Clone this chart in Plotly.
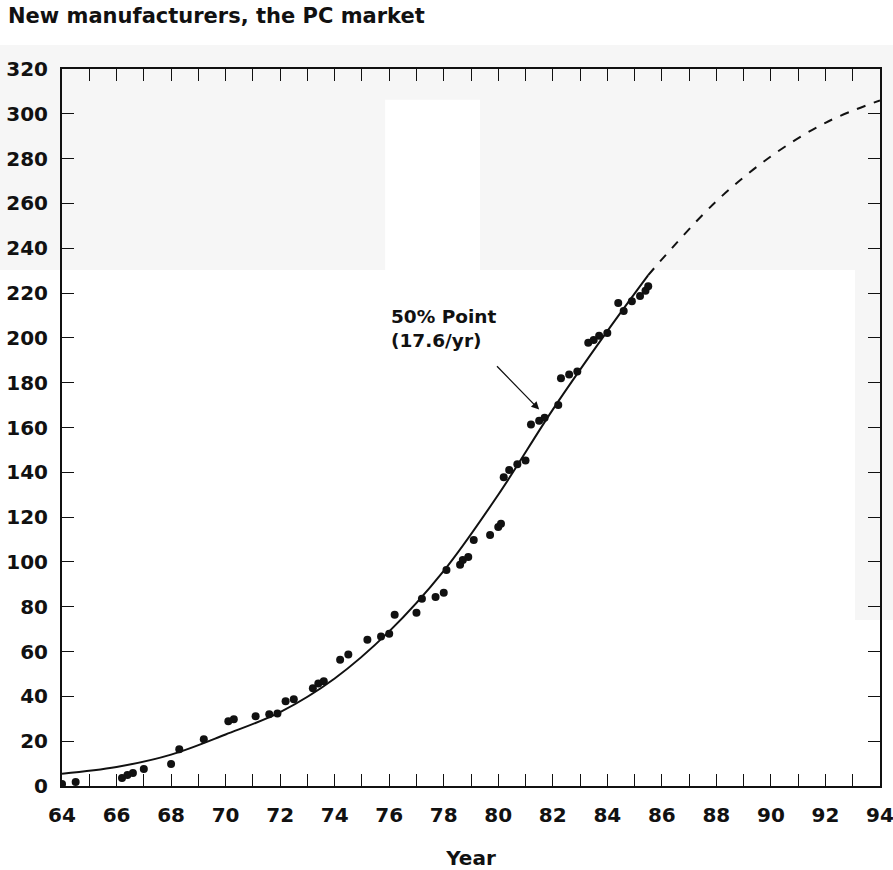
import plotly.graph_objects as go

# Observed data (year, new manufacturers cumulative)
obs_year = [64.0, 64.5, 66.2, 66.4, 66.6, 67.0, 68.0, 68.3, 69.2,
            70.1, 70.3, 71.1, 71.6, 71.9, 72.2, 72.5, 73.2, 73.4, 73.6, 74.2, 74.5,
            75.2, 75.7, 76.0, 76.2, 77.0, 77.2, 77.7, 78.0, 78.1, 78.6, 78.7, 78.9, 79.1,
            79.7, 80.0, 80.1, 80.2, 80.4, 80.7, 81.0, 81.2, 81.5, 81.7,
            82.2, 82.3, 82.6, 82.9, 83.3, 83.5, 83.7, 84.0, 84.4, 84.6, 84.9, 85.2, 85.4, 85.5]
obs_value = [0.9, 1.8, 3.6, 4.9, 5.8, 7.6, 9.8, 16.4, 20.9,
             28.9, 29.8, 31.1, 32.0, 32.4, 37.8, 38.7, 43.6, 45.8, 46.7, 56.4, 58.7,
             65.3, 66.7, 68.0, 76.4, 77.3, 83.6, 84.4, 86.2, 96.4, 98.7, 100.9, 102.2, 109.8,
             112.0, 115.6, 117.0, 137.8, 141.0, 143.6, 145.3, 161.3, 163.0, 164.4,
             170.0, 182.0, 183.6, 185.0, 197.8, 199.0, 200.9, 202.2, 215.6, 212.0, 216.4, 218.7, 221.0, 223.0]

# Fitted curve
fit_year = [64, 66, 68, 70, 72, 74, 76, 78, 80, 82, 84, 85.5]
fit_value = [5.5, 8.5, 14, 23, 33, 48, 69, 96, 130, 168, 203, 228]
proj_year = [85.5, 86, 88, 90, 92, 94]
proj_value = [228, 235, 261, 281, 296, 306]

x_ticks = list(range(64, 95, 2))
y_ticks = list(range(0, 321, 20))

title_text = "New manufacturers, the PC market"
annot_text = "50% Point<br>(17.6/yr)"

FONT = "DejaVu Sans"
INK = "#111111"

fig = go.Figure()
fig.add_trace(go.Scatter(x=fit_year, y=fit_value, mode="lines", line=dict(color=INK, width=2, shape="spline"),
                         showlegend=False, hoverinfo="skip"))
fig.add_trace(go.Scatter(x=proj_year, y=proj_value, mode="lines",
                         line=dict(color=INK, width=2, dash="dash", shape="spline"),
                         showlegend=False, hoverinfo="skip"))
fig.add_trace(go.Scatter(x=obs_year, y=obs_value, mode="markers", marker=dict(color=INK, size=8),
                         showlegend=False))

# text annotation
fig.add_annotation(x=76.0, y=215, xref="x", yref="y", text=annot_text, showarrow=False,
                   xanchor="left", yanchor="top", align="left",
                   font=dict(family=FONT, size=18.5, color=INK, weight="bold"))
# arrow
fig.add_annotation(x=81.5, y=168, ax=79.9, ay=188, xref="x", yref="y", axref="x", ayref="y",
                   text="", showarrow=True, arrowhead=2, arrowsize=1.2, arrowwidth=1.3, arrowcolor=INK)

# scan background tint
GRAY = "#f6f6f6"
shapes = [
    dict(type="rect", xref="paper", yref="paper", x0=-0.08, x1=1.02, y0=0.7197, y1=1.0335,
         fillcolor=GRAY, line=dict(width=0), layer="below"),
    dict(type="rect", xref="paper", yref="paper", x0=0.395, x1=0.511, y0=0.7197, y1=0.957,
         fillcolor="#ffffff", line=dict(width=0), layer="below"),
    dict(type="rect", xref="paper", yref="paper", x0=0.9694, x1=1.02, y0=0.2315, y1=0.7197,
         fillcolor=GRAY, line=dict(width=0), layer="below"),
]

tickfont = dict(family=FONT, size=20, color=INK, weight="bold")

fig.update_layout(
    width=893, height=870,
    margin=dict(l=62, r=13, t=69, b=84),
    paper_bgcolor="white", plot_bgcolor="rgba(0,0,0,0)",
    shapes=shapes,
    font=dict(family=FONT, size=15, color=INK),
    title=dict(text=title_text, x=0.009, xanchor="left", y=0.99, yanchor="top",
               font=dict(family=FONT, size=21, color=INK, weight="bold")),
    xaxis=dict(range=[63.999, 94.001], tickvals=x_ticks, ticktext=[str(v) for v in x_ticks],
               ticks="inside", ticklen=12, tickwidth=1.3, tickcolor=INK, automargin=False,
               ticklabeloverflow="allow",
               minor=dict(dtick=1, tick0=64, ticks="inside", ticklen=12, tickwidth=1.3, tickcolor=INK),
               showline=True, linecolor=INK, linewidth=2, mirror="ticks", showgrid=False, zeroline=False,
               ticklabelstandoff=10,
               title=dict(text="Year", standoff=25, font=dict(family=FONT, size=20, color=INK, weight="bold")),
               tickfont=tickfont),
    yaxis=dict(range=[0, 320], tickvals=y_ticks, ticktext=[str(v) for v in y_ticks],
               ticks="inside", ticklen=12, tickwidth=1.3, tickcolor=INK, automargin=False,
               showline=True, linecolor=INK, linewidth=2, mirror="ticks", showgrid=False, zeroline=False,
               ticklabelstandoff=8,
               tickfont=tickfont),
)

fig.write_html("out.html")
